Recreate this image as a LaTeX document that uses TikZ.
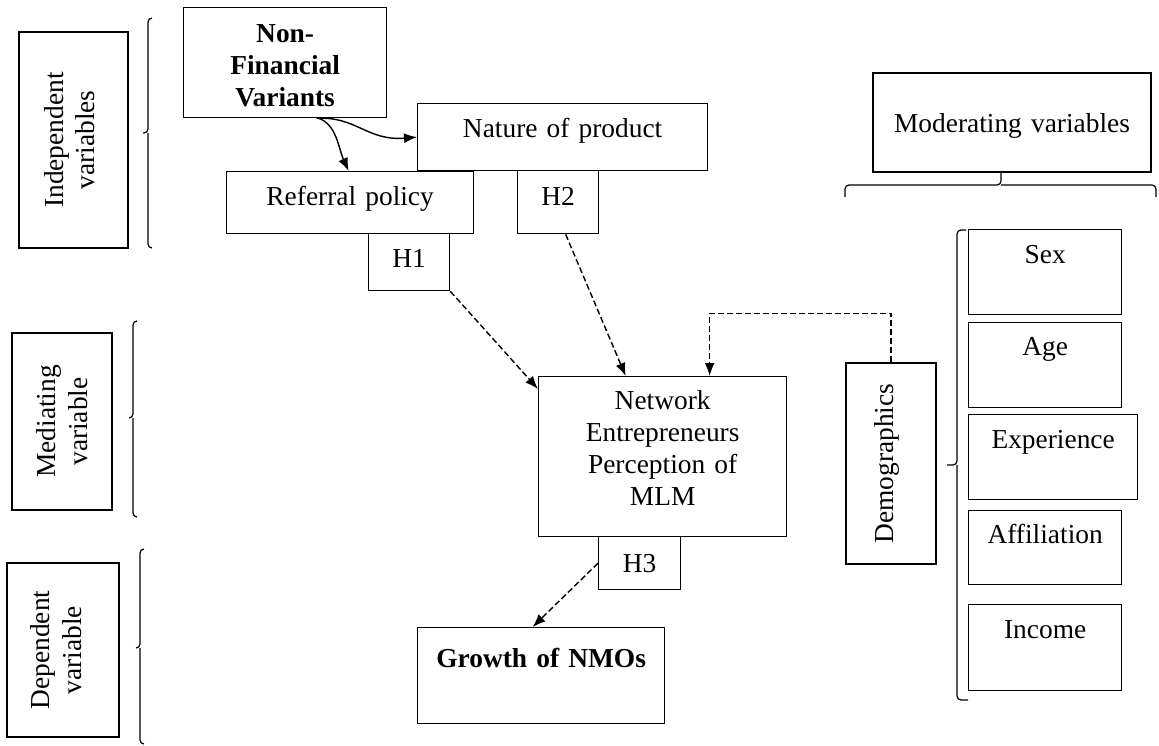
\documentclass[tikz,border=0pt]{standalone}
\usepackage{fontspec}
\setmainfont{Liberation Serif}
\usetikzlibrary{arrows.meta}
\tikzset{
  varbox/.style={draw, line width=1.3pt, inner sep=0pt, align=center, anchor=north west},
  sidebox/.style={draw, line width=1.3pt, inner sep=0pt, align=center, rotate=90},
  boldtext/.style={font=\fontsize{27.4}{32}\selectfont\bfseries},
  dasharrow/.style={line width=1.4pt, dash pattern=on 6pt off 3pt, -{Latex[length=13pt,width=10pt]}},
  curvearrow/.style={line width=1.4pt, -{Latex[length=13pt,width=10pt]}},
  bracket/.style={line width=1.2pt, rounded corners=4pt}
}
\begin{document}
\begin{tikzpicture}[x=1pt, y=-1pt, font=\fontsize{27.4}{32}\selectfont]
  \useasboundingbox (0,0) rectangle (1159,746);
  % left column: kinds of variables
  \node[sidebox, text width=216pt, text height=44pt, text depth=65pt] (indep) at (73.5,140) {Independent\\variables};
  \node[sidebox, text width=177pt, text height=43pt, text depth=57pt] (medi) at (62,421.5) {Mediating\\variable};
  \node[sidebox, text width=174pt, text height=42pt, text depth=70pt] (depe) at (63,650) {Dependent\\variable};
  \draw[bracket] (152,18) -| (148,133) -- (143,133);
  \draw[bracket] (152,248) -| (148,133);
  \draw[bracket] (137,321) -| (133,418) -- (129,418);
  \draw[bracket] (137,517) -| (133,418);
  \draw[bracket] (144,549) -| (140,648) -- (136,648);
  \draw[bracket] (144,744) -| (140,648);
  % model
  \node[varbox, boldtext, text width=203pt, text height=35pt, text depth=75pt] (nfv) at (183,7) {Non-\\Financial\\Variants};
  \node[varbox, text width=290pt, text height=34pt, text depth=33pt] (nat) at (417,103) {Nature of product};
  \node[varbox, text width=247pt, text height=34pt, text depth=28pt] (ref) at (226,171) {Referral policy};
  \node[varbox, text width=81pt, text height=35pt, text depth=28pt] (h2) at (517,170) {H2};
  \node[varbox, text width=81pt, text height=34pt, text depth=23pt] (h1) at (368,233) {H1};
  \node[varbox, text width=248pt, text height=33pt, text depth=127pt] (net) at (538,376) {Network\\Entrepreneurs\\Perception of\\MLM};
  \node[varbox, text width=82pt, text height=36pt, text depth=17pt] (h3) at (598,536) {H3};
  \node[varbox, boldtext, text width=247pt, text height=40pt, text depth=56pt] (grow) at (417,627) {Growth of NMOs};
  \draw[curvearrow] ([xshift=33.5pt]nfv.south) .. controls +(18,6) and +(-10,-22) .. ([xshift=-1.5pt]ref.north);
  \draw[curvearrow] ([xshift=31.5pt]nfv.south) .. controls +(40,-2) and +(-50,4) .. (nat.west);
  \draw[dasharrow] (h1.south east) -- ([yshift=-13pt]net.north west);
  \draw[dasharrow] ([xshift=7.5pt]h2.south) -- ([xshift=-37pt]net.north);
  \draw[dasharrow] (h3.west) -- ([xshift=-8.5pt]grow.north);
  % moderating variables
  \node[varbox, line width=2pt, text width=278pt, text height=60pt, text depth=39pt] (mode) at (872,72) {Moderating variables};
  \draw[bracket] (845,197) |- (1001,185) -- (mode.south -| 1001,0);
  \draw[bracket] (1156,197) |- (1001,185);
  \node[sidebox, text width=201pt, text height=47pt, text depth=43pt] (demo) at (891,463.5) {Demographics};
  \draw[dasharrow] (demo.east) -- ++(0,-49) -| ([xshift=47pt]net.north);
  \draw[bracket] (966,230) -| (957,465) -- (947,465);
  \draw[bracket] (968,700) -| (957,465);
  \node[varbox, text width=153pt, text height=34pt, text depth=51pt] (sex) at (968,229) {Sex};
  \node[varbox, text width=153pt, text height=33pt, text depth=52pt] (age) at (968,322) {Age};
  \node[varbox, text width=169pt, text height=34pt, text depth=51pt] (expe) at (968,414) {Experience};
  \node[varbox, text width=153pt, text height=33pt, text depth=41pt] (affi) at (968,510) {Affiliation};
  \node[varbox, text width=153pt, text height=34pt, text depth=52pt] (inco) at (968,604) {Income};
\end{tikzpicture}
\end{document}
